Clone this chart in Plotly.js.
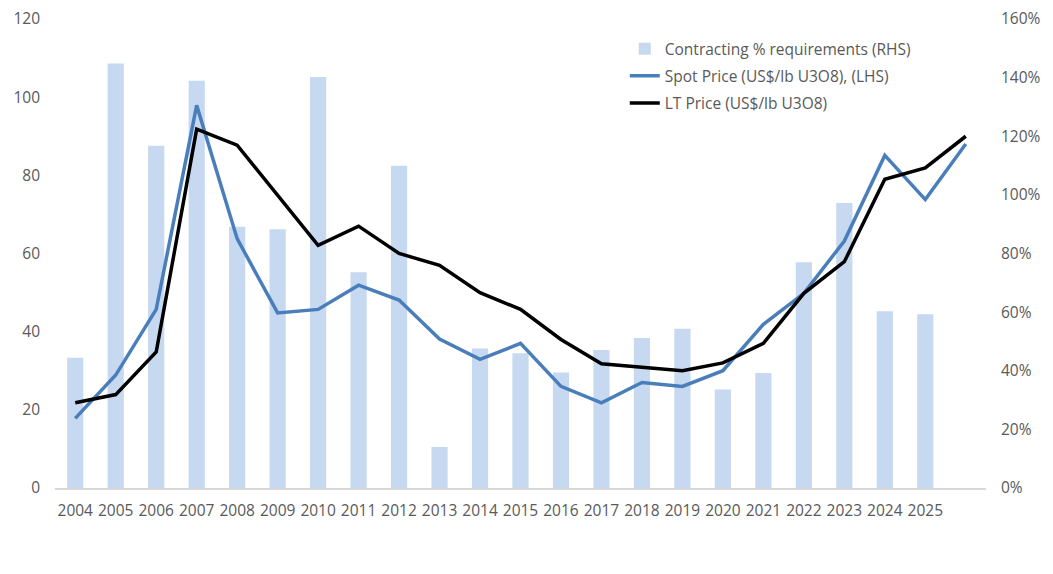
<!DOCTYPE html>
<html>
<head>
<meta charset="utf-8">
<script src="https://cdn.plot.ly/plotly-3.0.1.min.js"></script>
<style>
  html, body { margin: 0; padding: 0; background: #fff; }
  #graphDiv { width: 1053px; height: 574px; }
</style>
</head>
<body>
<div id="graphDiv"></div>
<script>
// years for the bars (2004-2025) and the price lines (run one step further)
var barYears = [2004, 2005, 2006, 2007, 2008, 2009, 2010, 2011, 2012, 2013, 2014,
                2015, 2016, 2017, 2018, 2019, 2020, 2021, 2022, 2023, 2024, 2025];
var lineYears = [2004, 2005, 2006, 2007, 2008, 2009, 2010, 2011, 2012, 2013, 2014,
                 2015, 2016, 2017, 2018, 2019, 2020, 2021, 2022, 2023, 2024, 2025, 2026];
var tickLabels = ['2004', '2005', '2006', '2007', '2008', '2009', '2010', '2011', '2012',
                  '2013', '2014', '2015', '2016', '2017', '2018', '2019', '2020', '2021',
                  '2022', '2023', '2024', '2025'];

// Contracting % of requirements (RHS)
var contracting = [44.4, 144.8, 116.8, 138.9, 89.1, 88.3, 140.2, 73.6, 109.9, 14.0, 47.6,
                   46.0, 39.4, 47.1, 51.2, 54.3, 33.6, 39.2, 77.0, 97.2, 60.3, 59.3];
// Spot price US$/lb U3O8 (LHS)
var spot = [17.8, 28.9, 45.7, 97.9, 63.8, 44.8, 45.7, 51.9, 48.1, 38.1, 32.9, 37.0,
            26.0, 21.8, 27.0, 26.0, 30.0, 41.9, 49.8, 63.2, 85.1, 73.8, 88.0];
// Long term price US$/lb U3O8 (LHS)
var ltPrice = [21.8, 23.9, 34.8, 91.8, 87.7, 75.0, 62.1, 67.0, 60.0, 57.0, 50.0, 45.7,
               38.0, 31.8, 31.0, 30.0, 32.0, 37.0, 49.8, 57.9, 79.0, 81.9, 90.0];

var txtColor = '#595959';

var trace1 = {
  type: 'bar',
  name: 'Contracting % requirements (RHS)',
  legendgroup: 'a',
  x: barYears,
  y: contracting,
  yaxis: 'y',
  width: 0.4,
  marker: {color: '#c6d9f1'}
};

var trace2 = {
  type: 'scatter',
  mode: 'lines',
  name: 'Spot Price (US$/lb U3O8), (LHS)',
  legendgroup: 'b',
  x: lineYears,
  y: spot,
  yaxis: 'y2',
  line: {color: '#4a7ebb', width: 3.5}
};

var trace3 = {
  type: 'scatter',
  mode: 'lines',
  name: 'LT Price (US$/lb U3O8)',
  legendgroup: 'c',
  x: lineYears,
  y: ltPrice,
  yaxis: 'y2',
  line: {color: '#000000', width: 3.5}
};

var data = [trace1, trace2, trace3];

var layout = {
  width: 1053,
  height: 574,
  margin: {l: 55, r: 67, t: 19, b: 86},
  paper_bgcolor: '#ffffff',
  plot_bgcolor: '#ffffff',
  font: {family: 'Open Sans, sans-serif', size: 15, color: txtColor},
  showlegend: true,
  legend: {
    x: 0.612,
    y: 0.972,
    xanchor: 'left',
    yanchor: 'top',
    font: {size: 15.5, color: txtColor},
    bgcolor: 'rgba(0,0,0,0)',
    tracegroupgap: 4,
    traceorder: 'grouped'
  },
  xaxis: {
    range: [2003.5, 2026.5],
    tickmode: 'array',
    tickvals: barYears,
    ticktext: tickLabels,
    showgrid: false,
    zeroline: false,
    showline: true,
    linecolor: '#d9d9d9',
    linewidth: 1.5,
    ticks: '',
    ticklabelstandoff: 8,
    tickfont: {size: 15.5, color: txtColor}
  },
  // bars on the base axis so the lines draw on top; shown on the right
  yaxis: {
    side: 'right',
    range: [0, 160],
    dtick: 20,
    ticksuffix: '%',
    showgrid: false,
    zeroline: false,
    ticks: '',
    ticklabelstandoff: 14,
    tickfont: {size: 15.5, color: txtColor}
  },
  yaxis2: {
    overlaying: 'y',
    side: 'left',
    range: [0, 120],
    dtick: 20,
    showgrid: false,
    zeroline: false,
    ticks: '',
    ticklabelstandoff: 14,
    tickfont: {size: 15.5, color: txtColor}
  }
};

Plotly.newPlot('graphDiv', data, layout, {displayModeBar: false, staticPlot: true});
</script>
</body>
</html>
